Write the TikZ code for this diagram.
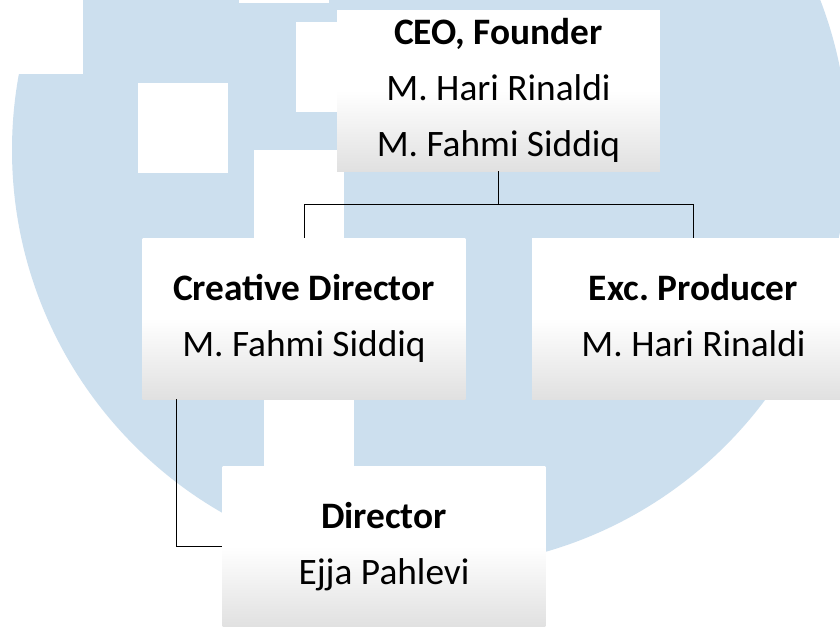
\documentclass[tikz,border=0pt]{standalone}
\usepackage{fontspec}
\setmainfont{Carlito}
\definecolor{logoblue}{RGB}{204,223,238}
\newcommand{\boxtop}{\rule{0pt}{26pt}}
\newcommand{\boxend}{\rule[-10.5pt]{0pt}{10.5pt}}
\begin{document}
\begin{tikzpicture}[x=0.75pt, y=-0.75pt,
  orgbox/.style={top color=white, bottom color=black!12, middle color=white,
    minimum width=242pt, minimum height=120.75pt,
    inner sep=0pt, align=center, font=\fontsize{28}{42}\selectfont},
  link/.style={line width=0.75pt}]
  \useasboundingbox (0,0) rectangle (840,626);
  \clip (0,0) rectangle (840,626);
  % watermark
  \fill[white] (0,0) rectangle (840,626);
  \fill[logoblue] (430,150) circle[radius=313.5pt];
  \fill[white] (0,0) rectangle (83,74);
  \fill[white] (239,-10) rectangle (329,3);
  \fill[white] (138,83) rectangle (228,173);
  \fill[white] (296,22) rectangle (386,112);
  \fill[white] (254,150) rectangle (344,240);
  \fill[white] (264,376) rectangle (354,466);
  % chart
  \node[orgbox] (ceo) at (498.5,90.5) {\boxtop\textbf{CEO, Founder}\\M. Hari Rinaldi\\M. Fahmi Siddiq\boxend};
  \node[orgbox] (creative) at (304,318.5) {\boxtop\textbf{Creative Director}\\M. Fahmi Siddiq\boxend};
  \node[orgbox] (producer) at (693.5,318.5) {\boxtop\textbf{Exc.\ Producer}\\M. Hari Rinaldi\boxend};
  \node[orgbox] (director) at (384,546.5) {\boxtop\textbf{Director}\\Ejja Pahlevi\boxend};
  \draw[link] (ceo.south) -- ++(0,33) -| (creative.north);
  \draw[link] (ceo.south) -- ++(0,33) -| (producer.north);
  \draw[link] ([xshift=-96pt]creative.south) |- (director.west);
\end{tikzpicture}
\end{document}
